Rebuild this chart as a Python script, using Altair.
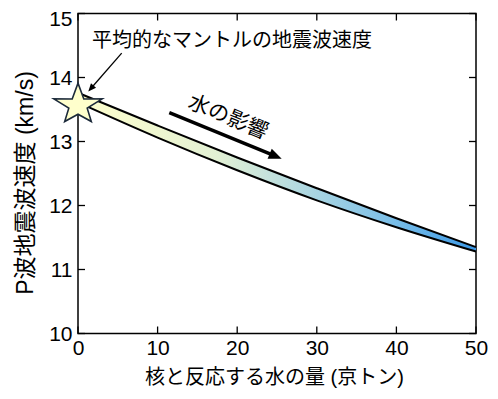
import altair as alt
import pandas as pd

# ---- data ----
water = [0, 10, 20, 30, 40, 50]                       # 核と反応する水の量 (京トン)
vp_upper = [13.76, 13.25, 12.75, 12.27, 11.80, 11.35]  # upper edge of band
vp_lower = [13.61, 13.06, 12.55, 12.08, 11.66, 11.28]  # lower edge of band
x_ticks = [0, 10, 20, 30, 40, 50]
y_ticks = [10, 11, 12, 13, 14, 15]
star_x = [0]
star_y = [13.57]
x_title = "核と反応する水の量 (京トン)"
y_title = "P波地震波速度 (km/s)"
note_mantle = "平均的なマントルの地震波速度"
note_water = "水の影響"

W, H = 398, 320
FONT = "Liberation Sans, Noto Sans CJK JP"
LFONT = "Liberation Sans"

xs = alt.Scale(domain=[0, 50], nice=False, zero=False)
ys = alt.Scale(domain=[10, 15], nice=False, zero=False)

band = pd.DataFrame({"x": water, "top": vp_upper, "bottom": vp_lower})

xaxis = alt.Axis(values=x_ticks, tickSize=0, labelPadding=4, domain=False, grid=False,
                 labelFlush=False, labelFont=LFONT, labelFontSize=21, labelColor="black",
                 format="d", title=x_title, titleFont=FONT, titleFontSize=20,
                 titleFontWeight="normal", titleColor="black", titleX=196, titleY=44,
                 titleAlign="center", titleBaseline="middle")
yaxis = alt.Axis(values=y_ticks, tickSize=0, labelPadding=6, domain=False, grid=False,
                 labelFont=LFONT, labelFontSize=21, labelColor="black", format="d",
                 labelOffset={"condition": {"test": "datum.value == 15", "value": 6},
                              "value": 1},
                 title=y_title, titleFont=FONT, titleFontSize=23, titleFontWeight="normal",
                 titleColor="black", titleX=-53, titleY=169, titleAngle=270,
                 titleAlign="center", titleBaseline="middle")


def X(f):
    return alt.X(f, scale=xs, axis=xaxis)


def Y(f):
    return alt.Y(f, scale=ys, axis=yaxis)


grad = {
    "gradient": "linear", "x1": 0, "x2": 1, "y1": 0, "y2": 0,
    "stops": [
        {"offset": 0, "color": "#ffffcc"},
        {"offset": 0.35, "color": "#e2f0d4"},
        {"offset": 0.55, "color": "#b4dae0"},
        {"offset": 0.8, "color": "#78bde8"},
        {"offset": 1, "color": "#3a98e6"},
    ],
}

area = alt.Chart(band).mark_area(color=grad, opacity=1, interpolate="monotone").encode(
    x=X("x:Q"), y=Y("top:Q"), y2="bottom:Q")
line_top = alt.Chart(band).mark_line(color="black", strokeWidth=2, interpolate="monotone").encode(
    x=X("x:Q"), y=Y("top:Q"))
line_bot = alt.Chart(band).mark_line(color="black", strokeWidth=2, interpolate="monotone").encode(
    x=X("x:Q"), y=Y("bottom:Q"))

# inward ticks on all four sides
xt = pd.DataFrame({"v": x_ticks})
yt = pd.DataFrame({"v": y_ticks})
tick_b = alt.Chart(xt).mark_rule(color="black", strokeWidth=1.3).encode(
    x=X("v:Q"), y=alt.value(H), y2=alt.value(H - 7))
tick_t = alt.Chart(xt).mark_rule(color="black", strokeWidth=1.3).encode(
    x=X("v:Q"), y=alt.value(0), y2=alt.value(7))
tick_l = alt.Chart(yt).mark_rule(color="black", strokeWidth=1.3).encode(
    y=Y("v:Q"), x=alt.value(0), x2=alt.value(7))
tick_r = alt.Chart(yt).mark_rule(color="black", strokeWidth=1.3).encode(
    y=Y("v:Q"), x=alt.value(W), x2=alt.value(W - 7))

STAR = ("M0,-0.905L0.24,-0.25L1,-0.256L0.38,0.13L0.55,0.682L0,0.38"
        "L-0.55,0.682L-0.38,0.13L-1,-0.256L-0.24,-0.25Z")
star = alt.Chart(pd.DataFrame({"x": star_x, "y": star_y})).mark_point(
    shape=STAR, size=2343, filled=True, fill="#ffffcc", stroke="#1c2a3a",
    strokeWidth=1.6, opacity=1, fillOpacity=1).encode(x=X("x:Q"), y=Y("y:Q"))

HEAD = "M0,0L-1,-0.42L-1,0.42Z"

# annotation arrow to the star
a1 = pd.DataFrame({"x": [5.49], "y": [14.38], "x2": [1.70], "y2": [13.84]})
arrow1 = alt.Chart(a1).mark_rule(color="black", strokeWidth=1.3).encode(
    x=X("x:Q"), y=Y("y:Q"), x2="x2:Q", y2="y2:Q")
h1 = pd.DataFrame({"x": [1.29], "y": [13.78]})
head1 = alt.Chart(h1).mark_point(shape=HEAD, size=256, angle=131, filled=True,
                                 color="black", opacity=1).encode(x=X("x:Q"), y=Y("y:Q"))

t1 = pd.DataFrame({"x": [1.76], "y": [14.57], "t": [note_mantle]})
text1 = alt.Chart(t1).mark_text(font=FONT, fontSize=20, align="left", baseline="middle",
                                color="black").encode(x=X("x:Q"), y=Y("y:Q"), text="t:N")

# water-effect arrow
a2 = pd.DataFrame({"x": [11.47], "y": [13.45], "x2": [24.66], "y2": [12.78]})
arrow2 = alt.Chart(a2).mark_rule(color="black", strokeWidth=3.5).encode(
    x=X("x:Q"), y=Y("y:Q"), x2="x2:Q", y2="y2:Q")
h2 = pd.DataFrame({"x": [25.59], "y": [12.73]})
head2 = alt.Chart(h2).mark_point(shape=HEAD, size=676, angle=22.4, filled=True,
                                 color="black", opacity=1).encode(x=X("x:Q"), y=Y("y:Q"))

t2 = pd.DataFrame({"x": [18.84], "y": [13.37], "t": [note_water]})
text2 = alt.Chart(t2).mark_text(font=FONT, fontSize=21, align="center", baseline="middle",
                                angle=22.4, color="black").encode(
    x=X("x:Q"), y=Y("y:Q"), text="t:N")

chart = alt.layer(
    area, line_top, line_bot, tick_b, tick_t, tick_l, tick_r,
    arrow1, head1, text1, arrow2, head2, text2, star,
).properties(
    width=W, height=H,
    autosize=alt.AutoSizeParams(type="none"),
    padding={"left": 70, "top": 5.5, "right": 14, "bottom": 55},
    background="white",
).configure_view(stroke="black", strokeWidth=1.5)

chart.save("out.html", embed_options={"renderer": "svg", "actions": False})
